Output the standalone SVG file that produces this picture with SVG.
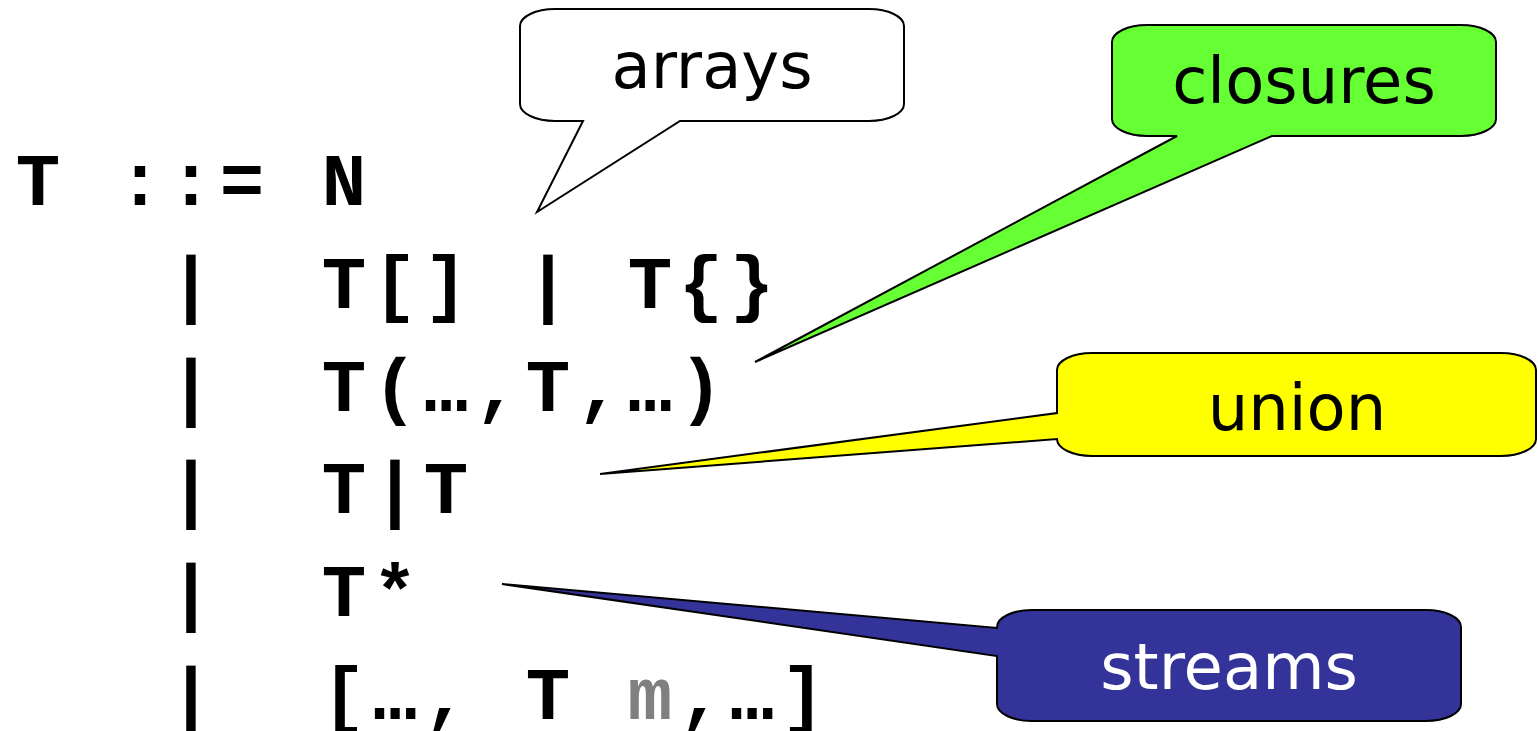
<svg xmlns="http://www.w3.org/2000/svg" width="1538" height="731" viewBox="0 0 1538 731">
<style>
.g{font-family:"Liberation Mono","Courier New",monospace;font-weight:bold;font-size:74px;letter-spacing:6.6px;fill:#000}
.gray{fill:#808080}
.c{font-family:"DejaVu Sans",Verdana,sans-serif;font-size:64px;text-anchor:middle}
.s{stroke:#000;stroke-width:2;stroke-linejoin:miter}
</style>
<rect width="1538" height="731" fill="#fff"/>
<g id="grammar">
<g id="line1"><text class="g" y="205"><tspan x="15.8">T</tspan><tspan x="117.8">::=</tspan><tspan x="321.8">N</tspan></text></g>
<g id="line2"><text class="g" y="307.8"><tspan x="168.8">|</tspan><tspan x="321.8">T[]</tspan><tspan x="525.8">|</tspan><tspan x="627.8">T{}</tspan></text></g>
<g id="line3"><text class="g" y="410.6"><tspan x="168.8">|</tspan><tspan x="321.8">T(…,T,…)</tspan></text></g>
<g id="line4"><text class="g" y="513.4"><tspan x="168.8">|</tspan><tspan x="321.8">T|T</tspan></text></g>
<g id="line5"><text class="g" y="616.2"><tspan x="168.8">|</tspan><tspan x="321.8">T*</tspan></text></g>
<g id="line6"><text class="g" y="719"><tspan x="168.8">|</tspan><tspan x="321.8">[…,</tspan><tspan x="525.8">T</tspan><tspan x="627.8" class="gray">m</tspan><tspan x="678.8">,…]</tspan></text></g>
</g>
<g id="connectors"/>
<g id="arrays">
<path class="s" fill="#fff" d="M555 9 H869 A35 17 0 0 1 904 26 V104 A35 17 0 0 1 869 121 H680 L537 212 L583 121 H555 A35 17 0 0 1 520 104 V26 A35 17 0 0 1 555 9 Z"/>
<text class="c" x="712" y="88" fill="#000">arrays</text>
</g>
<g id="closures">
<path class="s" fill="#66FF33" d="M1147 25 H1461 A35 17 0 0 1 1496 42 V119 A35 17 0 0 1 1461 136 H1272 L755 362 L1177 136 H1147 A35 17 0 0 1 1112 119 V42 A35 17 0 0 1 1147 25 Z"/>
<text class="c" x="1304" y="103" fill="#000">closures</text>
</g>
<g id="union">
<path class="s" fill="#FFFF00" d="M1092 353 H1501 A35 17 0 0 1 1536 370 V439 A35 17 0 0 1 1501 456 H1092 A35 17 0 0 1 1057 439 L600 474 L1057 413 V370 A35 17 0 0 1 1092 353 Z"/>
<text class="c" x="1297" y="430" fill="#000">union</text>
</g>
<g id="streams">
<path class="s" fill="#333399" d="M1032 610 H1426 A35 17 0 0 1 1461 627 V704 A35 17 0 0 1 1426 721 H1032 A35 17 0 0 1 997 704 V656 L502 584 L997 628 V627 A35 17 0 0 1 1032 610 Z"/>
<text class="c" x="1229" y="689" fill="#fff">streams</text>
</g>
</svg>
